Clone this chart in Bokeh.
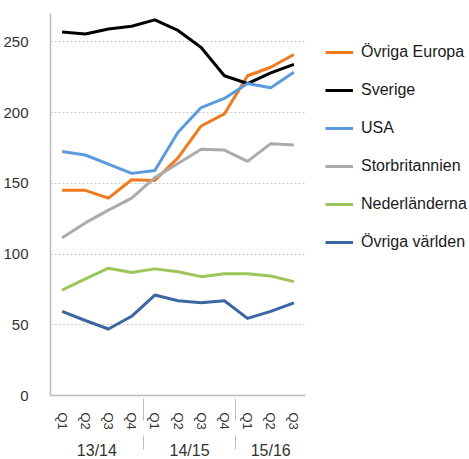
from bokeh.plotting import figure
from bokeh.models import ColumnDataSource, FactorRange, Range1d, Legend, LegendItem, CategoricalAxis
from bokeh.embed import file_html
from bokeh.resources import INLINE

years = ["13/14"] * 4 + ["14/15"] * 4 + ["15/16"] * 3
quarters = ["Q1", "Q2", "Q3", "Q4", "Q1", "Q2", "Q3", "Q4", "Q1", "Q2", "Q3"]

ovriga_europa = [145, 145, 139.5, 152.5, 152, 168, 190.5, 199, 226, 232, 241]
sverige = [257, 255.5, 259, 261, 265.5, 258, 246, 226, 220.5, 228, 234]
usa = [172.5, 170, 163.5, 157, 159, 186, 203.5, 210, 220.5, 217.5, 228.5]
storbritannien = [111.5, 122, 131, 139.5, 154, 164, 174, 173.5, 165.5, 178, 177]
nederlanderna = [74.5, 82.5, 90, 87, 89.5, 87.5, 84, 86, 86, 84.5, 80.5]
ovriga_varlden = [59.5, 53, 47, 56, 71, 67, 65.5, 67, 54.5, 59.5, 65.5]

series_names = ["Övriga Europa", "Sverige", "USA", "Storbritannien", "Nederländerna", "Övriga världen"]
series_values = [ovriga_europa, sverige, usa, storbritannien, nederlanderna, ovriga_varlden]
colors = ["#F07A1C", "#000000", "#5B9BDD", "#ABABAB", "#9CC65A", "#3B66A3"]

x = list(zip(years, quarters))

p = figure(
    x_range=FactorRange(*x, range_padding=0, group_padding=0, factor_padding=0),
    y_range=Range1d(0, 270),
    frame_width=255, frame_height=382,
    min_border_left=48, min_border_top=13, min_border_bottom=0, min_border_right=0,
    output_backend="svg", toolbar_location=None,
)
p.outline_line_color = None
p.background_fill_color = None
p.border_fill_color = None

items = []
for name, vals, c in zip(series_names, series_values, colors):
    src = ColumnDataSource(dict(x=x, y=vals))
    r = p.line("x", "y", source=src, line_color=c, line_width=3, line_join="round")
    items.append(LegendItem(label=name, renderers=[r]))

legend = Legend(items=items, location="top_left")
legend.margin = 20
legend.padding = 0
legend.spacing = 0
legend.glyph_width = 28
legend.glyph_height = 38
legend.label_height = 38
legend.label_standoff = 8
legend.label_text_font = "Liberation Sans"
legend.label_text_font_size = "16px"
legend.label_text_color = "#1a1a1a"
legend.border_line_color = None
legend.background_fill_alpha = 0
p.add_layout(legend, "right")

p.xgrid.grid_line_color = None
p.ygrid.grid_line_color = "#c8c8c8"
p.ygrid.grid_line_dash = "2 2"
p.ygrid.grid_line_width = 1
p.yaxis.ticker = [0, 50, 100, 150, 200, 250]

p.yaxis.axis_line_color = "#bdbdbd"
p.yaxis.axis_line_width = 1.5
p.yaxis.major_tick_line_color = None
p.yaxis.minor_tick_line_color = None
p.yaxis.major_label_standoff = 16
p.yaxis.major_label_text_font = "Liberation Sans"
p.yaxis.major_label_text_font_size = "15px"
p.yaxis.major_label_text_color = "#333333"

# inner axis: quarter labels
ax = p.xaxis[0]
ax.axis_line_color = "#bdbdbd"
ax.axis_line_width = 1.5
ax.major_tick_line_color = None
ax.minor_tick_line_color = None
ax.major_label_orientation = "vertical"
ax.major_label_standoff = 11
ax.major_label_text_font = "Liberation Sans"
ax.major_label_text_font_size = "13px"
ax.major_label_text_color = "#333333"
ax.group_text_alpha = 0
ax.group_text_font_size = "1px"
ax.separator_line_color = "#bdbdbd"
ax.separator_line_width = 1

# outer axis: year group labels
ax2 = CategoricalAxis()
ax2.axis_line_color = None
ax2.major_tick_line_color = None
ax2.minor_tick_line_color = None
ax2.major_label_text_alpha = 0
ax2.major_label_text_font_size = "1px"
ax2.major_label_standoff = 3
ax2.group_text_font = "Liberation Sans"
ax2.group_text_font_size = "16px"
ax2.group_text_font_style = "normal"
ax2.group_text_color = "#333333"
ax2.separator_line_color = "#bdbdbd"
ax2.separator_line_width = 1
p.add_layout(ax2, "below")

open("out.html", "w").write(file_html(p, INLINE))
